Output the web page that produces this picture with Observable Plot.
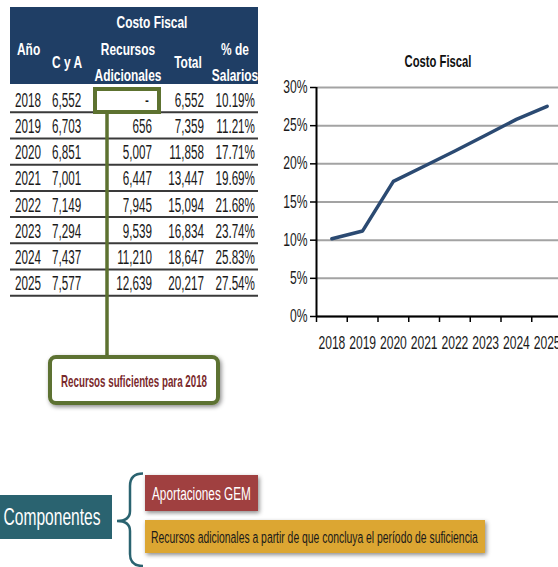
<!DOCTYPE html>
<html><head><meta charset="utf-8">
<script src="https://cdn.jsdelivr.net/npm/d3@7"></script>
<script src="https://cdn.jsdelivr.net/npm/@observablehq/plot@0.6"></script>
<style>
html,body{margin:0;padding:0;background:#fff;}
#root{position:relative;width:558px;height:567px;overflow:hidden;}
#root svg{position:absolute;}
</style></head><body><div id="root"></div>
<script>
// ---------- data ----------
const years = [2018, 2019, 2020, 2021, 2022, 2023, 2024, 2025];
const cyA = [6552, 6703, 6851, 7001, 7149, 7294, 7437, 7577];
const recursosAdicionales = [0, 656, 5007, 6447, 7945, 9539, 11210, 12639];
const totalCosto = [6552, 7359, 11858, 13447, 15094, 16834, 18647, 20217];
const pctSalarios = [10.19, 11.21, 17.71, 19.69, 21.68, 23.74, 25.83, 27.54];
const yTicks = [0, 0.05, 0.10, 0.15, 0.20, 0.25, 0.30];
const tableTitle = "Costo Fiscal";
const chartTitle = "Costo Fiscal";
const calloutText = "Recursos suficientes para 2018";
const componentsLabel = "Componentes";
const componentItems = ["Aportaciones GEM", "Recursos adicionales a partir de que concluya el período de suficiencia"];

const FONT = '"Liberation Sans", Arial, sans-serif';
const root = d3.select("#root");
const fmt = d3.format(",");

// ---------- overlay svg (table + annotations) ----------
const svg = root.append("svg").attr("width", 558).attr("height", 567).style("left", "0px").style("top", "0px")
  .style("font-family", FONT);

// measure natural width of a string in the page font
function measure(str, size, weight = 400) {
  const t = svg.append("text").attr("font-size", size).attr("font-weight", weight).text(str);
  const w = t.node().getComputedTextLength();
  t.remove();
  return w;
}
// horizontal condensing factors matching the narrow face of the reference
const sxRow = 26 / measure("2018", 20);
const sxHead = 67 / measure("Adicionales", 16.5, 700);
const sxAxis = 27 / measure("2018", 17.5);
const sxTitle = 67 / measure(chartTitle, 16, 700);
const sxCallout = 146 / measure(calloutText, 17, 700);
const sxComp = 97 / measure(componentsLabel, 23);
const sxRed = 99 / measure(componentItems[0], 19);
const sxYellow = 327 / measure(componentItems[1], 17);

// ---------- chart (Observable Plot) ----------
const data = years.map((y, i) => ({year: y, pct: pctSalarios[i] / 100}));
const boundaries = [years[0] - 0.5, ...years.map(y => y + 0.5)];
const chart = Plot.plot({
  width: 304, height: 316,
  marginLeft: 58, marginRight: 0, marginTop: 47, marginBottom: 40,
  style: {fontFamily: FONT, fontSize: "17.5px", color: "#1a1a1a", background: "transparent", overflow: "visible"},
  x: {domain: [years[0] - 0.5, years[years.length - 1] + 0.5], label: null},
  y: {domain: [0, 0.30], label: null},
  marks: [
    Plot.gridY(yTicks, {stroke: "#a3a3a3", strokeOpacity: 1, strokeWidth: 2}),
    Plot.axisY(yTicks, {tickSize: 6, tickPadding: 3, tickFormat: d3.format(".0%"), stroke: "#000", strokeWidth: 1.5, fill: "#1a1a1a", label: null}),
    Plot.axisX(boundaries, {tickSize: 6, tickFormat: () => "", stroke: "#000", strokeWidth: 1.5, label: null}),
    Plot.axisX(years, {tickSize: 0, tickPadding: 20, tickFormat: d => String(d), fill: "#1a1a1a", label: null}),
    Plot.ruleY([0], {stroke: "#000", strokeWidth: 2}),
    Plot.ruleX([years[0] - 0.5], {stroke: "#000", strokeWidth: 2}),
    Plot.line(data, {x: "year", y: "pct", stroke: "#2b4a72", strokeWidth: 3.5, strokeLinejoin: "round"})
  ]
});
chart.style.left = "258px";
chart.style.top = "40px";
// condense axis text around its anchor (keep em-based offsets untouched)
d3.select(chart).selectAll("text").each(function() {
  const t = d3.select(this);
  const xa = t.attr("x");
  let x = 0;
  if (xa != null && !/em/.test(xa) && isFinite(+xa)) { x = +xa; t.attr("x", null); }
  const tr = t.attr("transform") || "";
  t.attr("transform", `${tr} translate(${x},0) scale(${sxAxis},1)`);
});

const defs = svg.append("defs");
defs.append("filter").attr("id", "sh").attr("x", "-20%").attr("y", "-30%").attr("width", "140%").attr("height", "170%")
  .append("feDropShadow").attr("dx", 1.5).attr("dy", 2).attr("stdDeviation", 2)
  .attr("flood-color", "#000").attr("flood-opacity", 0.45);

function T(g, x, y, str, o = {}) {
  return g.append("text")
    .attr("transform", `translate(${x},${y}) scale(${o.sx ?? sxRow},1)`)
    .attr("text-anchor", o.anchor ?? "start")
    .attr("dy", "0.36em")
    .attr("font-size", o.size ?? 20)
    .attr("font-weight", o.weight ?? 400)
    .attr("fill", o.fill ?? "#1a1a1a")
    .text(str);
}

// header
svg.append("rect").attr("x", 10).attr("y", 7).attr("width", 248).attr("height", 77).attr("fill", "#1f3e65");
const H = {size: 16.5, weight: 700, fill: "#fff", sx: sxHead};
T(svg, 152, 22, tableTitle, {...H, anchor: "middle"});
T(svg, 17, 49, "Año", H);
T(svg, 52, 62, "C y A", H);
T(svg, 128, 49, "Recursos", {...H, anchor: "middle"});
T(svg, 128, 75, "Adicionales", {...H, anchor: "middle"});
T(svg, 188, 62, "Total", {...H, anchor: "middle"});
T(svg, 235, 49, "% de", {...H, anchor: "middle"});
T(svg, 235, 75, "Salarios", {...H, anchor: "middle"});

// rows
const rowY = i => 99.5 + i * 26.2;
years.forEach((yr, i) => {
  const y = rowY(i);
  T(svg, 15, y, String(yr));
  T(svg, 52, y, fmt(cyA[i]));
  T(svg, recursosAdicionales[i] === 0 ? 149 : 152, y, recursosAdicionales[i] === 0 ? "-" : fmt(recursosAdicionales[i]), {anchor: "end"});
  T(svg, 204, y, fmt(totalCosto[i]), {anchor: "end"});
  T(svg, 255, y, pctSalarios[i].toFixed(2) + "%", {anchor: "end"});
  svg.append("line").attr("x1", 10).attr("x2", 258).attr("y1", y + 12.8).attr("y2", y + 12.8)
    .attr("stroke", "#3a3a3a").attr("stroke-width", 2);
});

// green highlight + connector + callout
const green = "#5d7230";
svg.append("line").attr("x1", 107).attr("x2", 107).attr("y1", 114).attr("y2", 357)
  .attr("stroke", green).attr("stroke-width", 3.5);
svg.append("rect").attr("x", 95).attr("y", 89).attr("width", 64).attr("height", 23)
  .attr("fill", "none").attr("stroke", green).attr("stroke-width", 4);
svg.append("rect").attr("x", 50).attr("y", 357).attr("width", 168).attr("height", 46).attr("rx", 6)
  .attr("fill", "#fff").attr("stroke", green).attr("stroke-width", 4).attr("filter", "url(#sh)");
T(svg, 134, 381, calloutText, {anchor: "middle", size: 17, weight: 700, fill: "#7a2a2c", sx: sxCallout});

// chart title
T(svg, 438, 61, chartTitle, {anchor: "middle", size: 16, weight: 700, fill: "#111", sx: sxTitle});

// components
const teal = "#2a6370";
svg.append("rect").attr("x", 0).attr("y", 495).attr("width", 112).attr("height", 44).attr("fill", teal);
T(svg, 52, 517, componentsLabel, {anchor: "middle", size: 23, fill: "#fff", sx: sxComp});
svg.append("path")
  .attr("d", "M143,473.5 Q130,473.5 130,486 L130,511 Q130,521 117,521 Q130,521 130,531 L130,554 Q130,566 143,566")
  .attr("fill", "none").attr("stroke", teal).attr("stroke-width", 2.5);
svg.append("rect").attr("x", 145).attr("y", 475).attr("width", 113).attr("height", 36).attr("fill", "#a0413f").attr("filter", "url(#sh)");
T(svg, 152, 493, componentItems[0], {size: 19, fill: "#fff", sx: sxRed});
svg.append("rect").attr("x", 145).attr("y", 520).attr("width", 340).attr("height", 33).attr("fill", "#dca632").attr("filter", "url(#sh)");
T(svg, 151, 537, componentItems[1], {size: 17, fill: "#1a1a1a", sx: sxYellow});

root.node().appendChild(chart);
</script></body></html>
